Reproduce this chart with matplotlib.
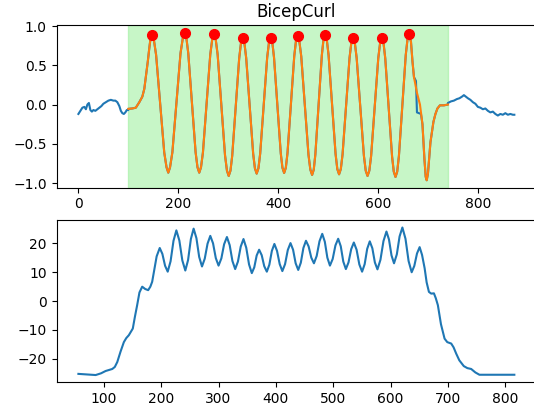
import numpy as np
import matplotlib
matplotlib.use("Agg")
import matplotlib.pyplot as plt

# ----------------------------------
# Raw accelerometer signal (outside the rep window)
# ----------------------------------
left_x = [0, 4, 8, 12, 15, 18, 21, 24, 27, 30, 34, 38, 42, 46, 50, 55, 60,
          65, 70, 74, 78, 82, 85, 88, 91, 94, 97, 100]
left_y = [-0.12, -0.08, -0.04, -0.03, -0.06, 0.0, 0.02, -0.07, -0.09, -0.07,
          -0.08, -0.06, -0.04, -0.02, 0.01, 0.03, 0.05, 0.06, 0.05, 0.05,
          0.03, -0.02, -0.08, -0.11, -0.12, -0.10, -0.07, -0.07]

right_x = [740, 746, 752, 758, 763, 768, 772, 776, 780, 785, 790, 795, 800,
           805, 810, 815, 820, 825, 830, 835, 840, 845, 850, 855, 860, 865,
           870, 873]
right_y = [0.02, 0.04, 0.05, 0.07, 0.08, 0.10, 0.12, 0.10, 0.08, 0.06, 0.03,
           0.01, -0.03, -0.04, -0.06, -0.05, -0.08, -0.10, -0.09, -0.12, -0.14,
           -0.12, -0.13, -0.11, -0.13, -0.12, -0.13, -0.13]

# glitch in the raw signal near the last rep
spike_x = [676, 678, 686]
spike_y = [0.30, -0.10, -0.12]

# ----------------------------------
# Filtered signal inside the rep window
# ----------------------------------
filt_x = [100, 108, 115, 122, 128, 132, 136, 139, 142, 144,
          147.5, 151, 155.6, 163.75, 171.9, 176.5,
          180, 183.5, 188.2, 196.35, 204.5, 209.2,
          212.7, 216.2, 220.0, 227.35, 234.7, 238.5,
          242, 245.5, 249.4, 256.75, 264.1, 268,
          271.5, 275, 278.9, 286.25, 293.6, 297.5,
          301, 304.5, 308, 315, 322, 325.5,
          329, 332.5, 336, 343, 350, 353.5,
          357, 360.5, 364, 371, 378, 381.5,
          385, 388.5, 391.75, 398.5, 405.25, 408.6,
          412, 415.4, 418.75, 425.5, 432.25, 435.6,
          439, 442.5, 446.25, 453.5, 460.75, 464.5,
          468, 471.3, 474.5, 481, 487.5, 490.7,
          494, 497.5, 501, 508, 515, 518.5,
          522, 525.5, 529, 536, 543, 546.5,
          550, 553.6, 557.25, 564.5, 571.75, 575.4,
          579, 582.6, 586.2, 593.35, 600.5, 604.1,
          607.7, 611.1, 614.5, 621.35, 628.2, 631.6,
          635, 638.4, 641.85, 648.7, 655.55, 659,
          662.4, 666, 669, 672, 678, 684, 689, 693, 695.5,
          697.5, 700, 702.5, 705, 708, 711, 715, 719, 724, 732, 740]
filt_y = [-0.055, -0.05, -0.04, 0.03, 0.10, 0.20, 0.40, 0.55, 0.72, 0.82,
          0.889, 0.83, 0.632, 0.010, -0.611, -0.80,
          -0.868, -0.80, -0.608, 0.024, 0.655, 0.85,
          0.915, 0.85, 0.655, 0.024, -0.608, -0.80,
          -0.868, -0.80, -0.610, 0.015, 0.639, 0.83,
          0.897, 0.83, 0.633, -0.007, -0.646, -0.843,
          -0.910, -0.843, -0.654, -0.032, 0.590, 0.78,
          0.846, 0.78, 0.594, -0.017, -0.628, -0.813,
          -0.880, -0.813, -0.627, -0.015, 0.597, 0.783,
          0.850, 0.783, 0.599, -0.011, -0.621, -0.805,
          -0.872, -0.805, -0.617, 0.0, 0.617, 0.805,
          0.872, 0.805, 0.614, -0.013, -0.639, -0.83,
          -0.897, -0.83, -0.636, -0.004, 0.628, 0.822,
          0.889, 0.822, 0.629, 0.0, -0.629, -0.822,
          -0.889, -0.822, -0.635, -0.02, 0.596, 0.783,
          0.850, 0.783, 0.593, -0.03, -0.653, -0.843,
          -0.910, -0.843, -0.654, -0.032, 0.590, 0.78,
          0.846, 0.78, 0.588, -0.039, -0.665, -0.856,
          -0.923, -0.856, -0.657, -0.013, 0.631, 0.83,
          0.897, 0.80, 0.55, 0.35, 0.15, 0.0, -0.25, -0.70, -0.92,
          -0.965, -0.88, -0.68, -0.48, -0.35, -0.22, -0.12, -0.05, -0.01,
          -0.01, 0.0]

# detected rep peaks
peak_x = [147.5, 212.7, 271.5, 329, 385, 439, 494, 550, 607.7, 662.4]
peak_y = [0.889, 0.915, 0.897, 0.846, 0.850, 0.872, 0.889, 0.850, 0.846, 0.897]

window = (100, 740)

# ----------------------------------
# Lower panel signal
# ----------------------------------
low_x = [55.5, 70, 85.6, 95, 103, 114.6, 119, 123.3, 129, 134.8, 139, 143.5,
         150.4, 154, 158, 162, 166.8, 172, 177.2, 181, 184.2, 188, 192, 197.4,
         202.0, 206.7, 211.3, 216.3, 221.4, 226.4, 231.6, 236.8, 242,
         246.8, 251.7, 256.5, 261.4, 266.2, 271.1, 275.9, 280.8, 285.6,
         290.4, 295.2, 300, 304.9, 309.7, 314.6, 319.4, 324.2, 329,
         333.8, 338.7, 343.5, 348.3, 353.2, 358, 362.3, 366.5, 370.8,
         375.3, 379.7, 384.2, 388.6, 393.0, 397.4, 402.0, 406.7, 411.3,
         416.0, 420.8, 425.5, 430.0, 434.5, 439, 443.5, 448.0, 452.5,
         457.1, 461.8, 466.4, 471.2, 476.1, 480.9, 485.4, 489.8, 494.3,
         499.1, 503.9, 508.7, 513.2, 517.6, 522.1, 526.7, 531.4, 536,
         540.8, 545.6, 550.4, 554.9, 559.3, 563.8, 568.3, 572.7, 577.2,
         582.4, 587.7, 592.9, 597.3, 601.7, 606.1, 611.0, 615.8, 620.7,
         626.1, 631.5, 636.9, 641.5, 646.2, 650.8,
         655, 659.5, 663, 667, 671, 675.7, 679, 682.6, 688, 694.3, 699,
         705.9, 710, 714.6, 720, 727.8, 734, 740.7, 748, 755.1, 780, 816]
low_y = [-25.2, -25.4, -25.6, -25.0, -24.2, -23.5, -22.8, -21.1, -17.5, -14.2,
         -12.8, -11.8, -9.5, -5.5, -1.4, 3.0, 5.0, 4.2, 3.8, 5.0, 6.7, 11.0,
         15.5, 18.4,
         16.35, 12.25, 10.2, 13.8, 20.9, 24.5, 21.0, 14.1, 10.6,
         14.2, 21.5, 25.1, 21.8, 15.3, 12.0, 14.7, 19.9, 22.6,
         20.0, 14.9, 12.3, 14.8, 19.7, 22.2, 19.4, 13.9, 11.1,
         13.7, 18.9, 21.5, 18.5, 12.7, 9.7, 11.7, 15.8, 17.8,
         15.9, 12.1, 10.2, 12.6, 17.4, 19.8, 17.4, 12.8, 10.4,
         12.8, 17.7, 20.1, 17.8, 13.1, 10.8, 13.3, 18.4, 20.9,
         18.95, 15.05, 13.1, 15.65, 20.75, 23.3, 20.55, 15.05, 12.3,
         14.6, 19.3, 21.6, 19.0, 13.7, 11.1, 13.4, 18.0, 20.3,
         17.8, 12.7, 10.2, 12.8, 18.1, 20.7, 18.3, 13.4, 11.0,
         14.3, 20.8, 24.1, 21.35, 15.85, 13.1, 16.2, 22.4, 25.5,
         21.6, 13.9, 10.0, 12.2, 16.5, 18.7,
         16.0, 11.4, 6.5, 3.2, 2.6, 2.7, 1.0, -1.4, -8.0, -13.0, -14.2,
         -14.7, -16.0, -18.2, -20.5, -22.5, -23.2, -23.5, -24.7, -25.5, -25.5,
         -25.5]
low_ticks = [-20, -10, 0, 10, 20]

# ----------------------------------
# Assemble raw series
# ----------------------------------
fx = np.array(filt_x)
fy = np.array(filt_y)
keep = (fx < spike_x[0]) | (fx > spike_x[-1])
raw_x = np.concatenate([left_x, fx[keep], spike_x, right_x])
raw_y = np.concatenate([left_y, fy[keep], spike_y, right_y])
order = np.argsort(raw_x, kind="stable")
raw_x = raw_x[order]
raw_y = raw_y[order]

# ==================================
# Plot
# ==================================
fig, (ax1, ax2) = plt.subplots(2, 1, figsize=(5.34, 4.09), dpi=100)
fig.subplots_adjust(left=0.106, right=1.004, top=0.938, bottom=0.065,
                    hspace=0.2)

ax1.axvspan(window[0], window[1], color="lightgreen", alpha=0.5)
ax1.plot(raw_x, raw_y, color="C0")
ax1.plot(filt_x, filt_y, color="C1")
ax1.plot(peak_x, peak_y, "o", color="red", markersize=7)
ax1.set_title("BicepCurl")

ax2.plot(low_x, low_y, color="C0")
ax2.set_yticks(low_ticks)

plt.savefig("out.png", dpi=100)
